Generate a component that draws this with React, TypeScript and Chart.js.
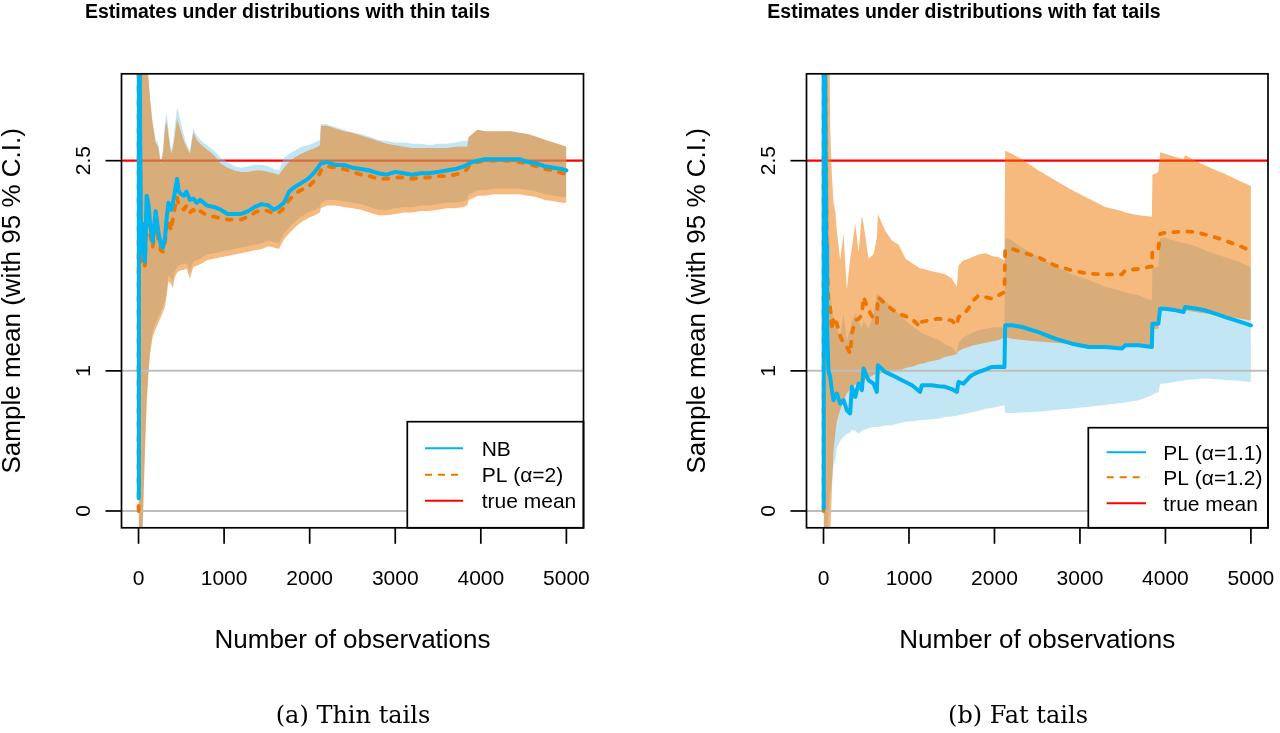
import React, { useEffect, useRef } from "react";
import { Chart, registerables } from "chart.js";

Chart.register(...registerables);

const SANS = '"Liberation Sans", Arial, Helvetica, sans-serif';
const SERIF = '"DejaVu Serif", "Liberation Serif", serif';

const BLUE = "#00B2EE";
const ORANGE = "#EE7600";
const RED = "#FF0000";
const GRAY = "#BEBEBE";
const BLUE_BAND = "rgba(135,206,235,0.5)";
const ORANGE_BAND = "rgba(238,118,0,0.5)";

// axis limits (R style: data range extended by 4%)
const X_MIN = -199;
const X_MAX = 5200;
const Y_MIN = -0.12;
const Y_MAX = 3.12;
const X_TICKS = [0, 1000, 2000, 3000, 4000, 5000];
const Y_TICKS = [0, 1, 2.5];
const Y_TICK_LABELS = ["0", "1", "2.5"];
const TRUE_MEAN = 2.5;
const GUIDE_LEVELS = [0, 1];

// ---------------- Panel (a): thin tails ----------------
const thinObs = [
  1, 3, 10, 20, 30, 45, 60, 75, 95, 115,
  135, 165, 200, 230, 260, 285, 310, 330, 350, 380,
  400, 420, 450, 470, 500, 530, 560, 600, 640, 680,
  720, 800, 880, 960, 1040, 1120, 1200, 1280, 1360, 1440,
  1520, 1580, 1640, 1700, 1760, 1820, 1900, 1980, 2060, 2120,
  2130, 2200, 2300, 2400, 2500, 2600, 2700, 2800, 2900, 3000,
  3100, 3200, 3300, 3400, 3500, 3600, 3700, 3800, 3840, 3860,
  3900, 3960, 4050, 4150, 4250, 4350, 4450, 4550, 4650, 4750,
  4850, 4950, 5000,
];
const thinNBMean = [
  0.09, 9, 3.6, 2.6, 1.85, 2.05, 1.8, 1.78, 2.25, 2.2,
  2.05, 1.92, 2.14, 2.0, 1.9, 1.88, 1.95, 2.1, 2.2, 2.15,
  2.19, 2.26, 2.37, 2.28, 2.26, 2.25, 2.28, 2.22, 2.23, 2.2,
  2.22, 2.18, 2.17, 2.15, 2.12, 2.12, 2.12, 2.14, 2.17, 2.19,
  2.18, 2.15, 2.17, 2.2, 2.28, 2.31, 2.34, 2.37, 2.42, 2.47,
  2.48, 2.49, 2.47, 2.47, 2.45, 2.44, 2.43, 2.41, 2.4, 2.42,
  2.41, 2.4, 2.41, 2.41, 2.42, 2.43, 2.44, 2.46, 2.47, 2.48,
  2.49, 2.5, 2.51, 2.51, 2.51, 2.51, 2.51, 2.49, 2.48, 2.46,
  2.45, 2.44, 2.43,
];
const thinPLMean = [
  0.0, 9, 3.5, 2.5, 1.78, 1.95, 1.77, 1.75, 2.1, 2.1,
  1.98, 1.88, 2.03, 1.95, 1.86, 1.85, 1.92, 2.03, 2.08, 2.0,
  2.08, 2.15, 2.24, 2.18, 2.17, 2.15, 2.18, 2.13, 2.15, 2.12,
  2.14, 2.11, 2.1, 2.09, 2.08, 2.08, 2.08, 2.1, 2.13, 2.15,
  2.14, 2.12, 2.13, 2.16, 2.22, 2.26, 2.29, 2.31, 2.36, 2.41,
  2.43, 2.46, 2.45, 2.44, 2.42, 2.4, 2.39, 2.37, 2.37, 2.38,
  2.38, 2.37, 2.38, 2.38, 2.39, 2.39, 2.4, 2.42, 2.44, 2.46,
  2.48, 2.49, 2.5, 2.5, 2.5, 2.5, 2.49, 2.48, 2.46, 2.44,
  2.43, 2.41, 2.41,
];
const thinNBUpper = [
  9, 9, 9, 9, 7, 5, 4.2, 3.6, 3.25, 3.1,
  2.95, 2.78, 2.65, 2.62, 2.5, 2.58, 2.78, 2.84, 2.72, 2.58,
  2.62, 2.72, 2.88, 2.84, 2.76, 2.68, 2.62, 2.57, 2.73, 2.68,
  2.65, 2.61, 2.57, 2.52, 2.49, 2.46, 2.45, 2.46, 2.47, 2.47,
  2.46, 2.44, 2.43, 2.52, 2.55, 2.57, 2.6, 2.61, 2.63, 2.65,
  2.76, 2.76, 2.74, 2.72, 2.7, 2.69, 2.67, 2.65, 2.64, 2.63,
  2.63, 2.62, 2.62, 2.61, 2.62, 2.62, 2.63, 2.64, 2.64, 2.67,
  2.69, 2.72, 2.71, 2.71, 2.71, 2.71, 2.7, 2.69, 2.67, 2.65,
  2.63, 2.61, 2.6,
];
const thinNBLower = [
  -1, -1, -1, -1, -0.5, -0.2, 0.15, 0.45, 0.79, 1.0,
  1.15, 1.28, 1.34, 1.38, 1.42, 1.46, 1.5, 1.58, 1.68, 1.66,
  1.63, 1.7, 1.74, 1.75, 1.76, 1.76, 1.77, 1.7, 1.78, 1.79,
  1.8, 1.83, 1.84, 1.85, 1.86, 1.87, 1.88, 1.89, 1.9, 1.91,
  1.93, 1.92, 1.91, 1.98, 2.02, 2.06, 2.1, 2.13, 2.15, 2.17,
  2.2, 2.22, 2.22, 2.21, 2.2, 2.19, 2.17, 2.15, 2.15, 2.16,
  2.17, 2.17, 2.18, 2.18, 2.19, 2.2, 2.2, 2.21, 2.22, 2.26,
  2.27, 2.29, 2.29, 2.3, 2.3, 2.3, 2.3, 2.29, 2.28, 2.26,
  2.25, 2.24, 2.24,
];
const thinPLUpper = [
  9, 9, 9, 9, 7, 5, 4.2, 3.6, 3.25, 3.1,
  2.93, 2.76, 2.63, 2.6, 2.48, 2.55, 2.74, 2.78, 2.68, 2.55,
  2.58, 2.66, 2.8, 2.76, 2.7, 2.64, 2.6, 2.55, 2.7, 2.65,
  2.62, 2.58, 2.54, 2.48, 2.45, 2.43, 2.42, 2.42, 2.43, 2.43,
  2.42, 2.41, 2.4, 2.45, 2.49, 2.52, 2.55, 2.57, 2.59, 2.61,
  2.75, 2.75, 2.73, 2.71, 2.7, 2.68, 2.66, 2.64, 2.62, 2.61,
  2.6, 2.59, 2.59, 2.59, 2.59, 2.59, 2.6, 2.6, 2.6, 2.67,
  2.69, 2.72, 2.71, 2.71, 2.71, 2.71, 2.7, 2.69, 2.67, 2.65,
  2.63, 2.61, 2.6,
];
const thinPLLower = [
  -1, -1, -1, -1, -0.5, -0.2, 0.12, 0.42, 0.76, 0.97,
  1.12, 1.24, 1.3, 1.34, 1.38, 1.42, 1.46, 1.54, 1.64, 1.62,
  1.59, 1.66, 1.7, 1.71, 1.72, 1.72, 1.73, 1.66, 1.74, 1.75,
  1.76, 1.79, 1.8, 1.81, 1.82, 1.83, 1.84, 1.85, 1.86, 1.87,
  1.89, 1.88, 1.87, 1.94, 1.98, 2.02, 2.06, 2.09, 2.11, 2.13,
  2.16, 2.18, 2.18, 2.17, 2.16, 2.15, 2.13, 2.11, 2.11, 2.12,
  2.13, 2.13, 2.14, 2.14, 2.15, 2.16, 2.16, 2.17, 2.18, 2.22,
  2.23, 2.25, 2.25, 2.26, 2.26, 2.26, 2.26, 2.25, 2.24, 2.22,
  2.21, 2.2, 2.2,
];

// ---------------- Panel (b): fat tails ----------------
const fatObs = [
  1, 2, 10, 20, 30, 40, 58, 78, 98, 117,
  137, 156, 195, 234, 273, 312, 332, 371, 410, 449,
  468, 527, 585, 624, 636, 722, 800, 878, 960, 1034,
  1131, 1150, 1267, 1350, 1424, 1500, 1560, 1579, 1638, 1700,
  1735, 1813, 1900, 1969, 2050, 2117, 2125, 2203, 2320, 2515,
  2710, 2905, 3100, 3295, 3490, 3529, 3685, 3841, 3848, 3918,
  3938, 3997, 4100, 4211, 4230, 4350, 4464, 4600, 4698, 4850,
  5000,
];
const fatA11Mean = [
  0.02, 30, 5.8, 2.9, 1.9, 1.35, 1.0, 0.957, 0.862, 0.791,
  0.82, 0.838, 0.767, 0.791, 0.719, 0.696, 0.886, 0.814, 0.909, 0.862,
  1.016, 0.933, 0.909, 0.85, 1.04, 0.992, 0.97, 0.945, 0.92, 0.897,
  0.85, 0.897, 0.897, 0.89, 0.886, 0.87, 0.85, 0.921, 0.909, 0.95,
  0.969, 0.992, 1.01, 1.028, 1.03, 1.028, 1.325, 1.325, 1.313, 1.277,
  1.23, 1.194, 1.17, 1.17, 1.159, 1.182, 1.182, 1.17, 1.337, 1.337,
  1.444, 1.444, 1.435, 1.42, 1.455, 1.445, 1.432, 1.405, 1.384, 1.355,
  1.325,
];
const fatA12Mean = [
  0.0, 30, 6, 3.2, 2.3, 1.8, 1.5, 1.45, 1.29, 1.384,
  1.36, 1.337, 1.25, 1.194, 1.17, 1.123, 1.265, 1.36, 1.37, 1.4,
  1.527, 1.432, 1.372, 1.337, 1.527, 1.479, 1.44, 1.408, 1.39, 1.372,
  1.313, 1.35, 1.365, 1.372, 1.365, 1.36, 1.325, 1.385, 1.4, 1.45,
  1.491, 1.538, 1.525, 1.515, 1.54, 1.562, 1.859, 1.871, 1.847, 1.811,
  1.752, 1.717, 1.693, 1.688, 1.688, 1.717, 1.728, 1.745, 1.86, 1.87,
  1.978, 1.985, 1.99, 1.995, 1.997, 1.99, 1.973, 1.95, 1.93, 1.895,
  1.859,
];
const fatA11Upper = [
  30, 30, 30, 30, 10, 5, 2.5, 1.55, 1.45, 1.384,
  1.34, 1.31, 1.24, 1.41, 1.22, 1.3, 1.35, 1.41, 1.35, 1.31,
  1.36, 1.3, 1.4, 1.55, 1.55, 1.5, 1.45, 1.41, 1.36, 1.32,
  1.28, 1.27, 1.24, 1.22, 1.19, 1.17, 1.12, 1.2, 1.24, 1.26,
  1.27, 1.29, 1.3, 1.31, 1.31, 1.31, 1.95, 1.93, 1.88, 1.81,
  1.75, 1.69, 1.65, 1.6, 1.57, 1.56, 1.54, 1.5, 1.74, 1.74,
  1.95, 1.95, 1.93, 1.91, 1.91, 1.89, 1.86, 1.83, 1.81, 1.78,
  1.74,
];
const fatA11Lower = [
  -1, -1, -1, -1, -1, -0.5, 0.0, 0.13, 0.21, 0.32,
  0.36, 0.45, 0.5, 0.53, 0.55, 0.56, 0.58, 0.57, 0.553, 0.57,
  0.58, 0.59, 0.6, 0.6, 0.6, 0.61, 0.612, 0.625, 0.636, 0.64,
  0.648, 0.648, 0.655, 0.66, 0.67, 0.675, 0.68, 0.685, 0.69, 0.7,
  0.705, 0.715, 0.73, 0.735, 0.745, 0.755, 0.7, 0.7, 0.703, 0.708,
  0.72, 0.732, 0.744, 0.756, 0.77, 0.775, 0.791, 0.826, 0.83, 0.85,
  0.908, 0.91, 0.92, 0.93, 0.935, 0.94, 0.945, 0.94, 0.935, 0.93,
  0.921,
];
const fatA12Upper = [
  30, 30, 30, 30, 20, 10, 4.5, 2.74, 2.4, 2.2,
  2.14, 2.0, 1.79, 1.98, 1.58, 1.8, 1.88, 2.05, 1.85, 2.11,
  2.05, 1.8, 1.83, 1.95, 2.12, 2.0, 1.93, 1.9, 1.8, 1.77,
  1.73, 1.73, 1.71, 1.7, 1.69, 1.66, 1.6, 1.75, 1.79, 1.8,
  1.81, 1.83, 1.84, 1.82, 1.81, 1.79, 2.57, 2.55, 2.51, 2.43,
  2.36, 2.29, 2.23, 2.17, 2.14, 2.13, 2.11, 2.1, 2.4, 2.42,
  2.56, 2.55, 2.53, 2.51, 2.54, 2.5, 2.465, 2.43, 2.405, 2.36,
  2.32,
];
const fatA12Lower = [
  -1, -1, -1, -1, -1, -1, -0.5, -0.2, 0.15, 0.43,
  0.55, 0.64, 0.72, 0.78, 0.84, 0.87, 0.88, 0.9, 0.91, 0.92,
  0.93, 0.95, 0.97, 0.98, 0.98, 0.99, 0.995, 1.0, 1.02, 1.03,
  1.05, 1.05, 1.07, 1.08, 1.1, 1.11, 1.12, 1.14, 1.16, 1.17,
  1.18, 1.19, 1.2, 1.21, 1.22, 1.24, 1.24, 1.23, 1.22, 1.21,
  1.2, 1.19, 1.18, 1.175, 1.17, 1.17, 1.17, 1.165, 1.3, 1.3,
  1.44, 1.44, 1.435, 1.43, 1.43, 1.42, 1.41, 1.4, 1.39, 1.375,
  1.36,
];

// ---------------- helpers ----------------
type Pt = { x: number; y: number };
const series = (xs: number[], ys: number[]): Pt[] => xs.map((x, i) => ({ x, y: ys[i] }));
const hline = (y: number): Pt[] => [
  { x: X_MIN, y },
  { x: X_MAX, y },
];

type LegendItem = { label: string; color: string; dash: number[] };
type PanelCfg = {
  title: string;
  titleX: number;
  caption: string;
  captionX: number;
  padLeft: number;
  padRight: number;
  legendLeft: number;
  legendTop: number;
  legendLineX: [number, number];
  legendTextX: number;
  legendRowsY: number[];
  legend: LegendItem[];
  obs: number[];
  meanA: number[];
  upA: number[];
  lowA: number[];
  meanB: number[];
  upB: number[];
  lowB: number[];
};

const CHART_TOP = 73.8;
const CHART_BOTTOM = 527.8;
const CANVAS_W = 640;
const CANVAS_H = 733;

function decorPlugin(cfg: PanelCfg) {
  return {
    id: "rDecor",
    afterDraw(chart: any) {
      const ctx: CanvasRenderingContext2D = chart.ctx;
      const a = chart.chartArea;
      const xs = chart.scales.x;
      const ys = chart.scales.y;
      ctx.save();

      // legend
      const lw = a.right - cfg.legendLeft;
      const lh = a.bottom - cfg.legendTop;
      ctx.fillStyle = "#fff";
      ctx.fillRect(cfg.legendLeft, cfg.legendTop, lw, lh);
      ctx.strokeStyle = "#000";
      ctx.lineWidth = 1.7;
      ctx.strokeRect(cfg.legendLeft, cfg.legendTop, lw, lh);
      ctx.font = `21px ${SANS}`;
      ctx.textAlign = "left";
      ctx.textBaseline = "alphabetic";
      cfg.legend.forEach((it, i) => {
        const y = cfg.legendRowsY[i];
        ctx.strokeStyle = it.color;
        ctx.lineWidth = 2;
        ctx.setLineDash(it.dash);
        ctx.beginPath();
        ctx.moveTo(cfg.legendLineX[0], y);
        ctx.lineTo(cfg.legendLineX[1], y);
        ctx.stroke();
        ctx.setLineDash([]);
        ctx.fillStyle = "#000";
        ctx.fillText(it.label, cfg.legendTextX, y + 7.3);
      });

      // box
      ctx.strokeStyle = "#000";
      ctx.lineWidth = 1.7;
      ctx.strokeRect(a.left, a.top, a.right - a.left, a.bottom - a.top);

      // x axis ticks + labels
      ctx.fillStyle = "#000";
      ctx.font = `21px ${SANS}`;
      ctx.textAlign = "center";
      for (const t of X_TICKS) {
        const px = xs.getPixelForValue(t);
        ctx.beginPath();
        ctx.moveTo(px, a.bottom);
        ctx.lineTo(px, a.bottom + 16);
        ctx.stroke();
        ctx.fillText(String(t), px, a.bottom + 57);
      }
      // y axis ticks + rotated labels
      Y_TICKS.forEach((t, i) => {
        const py = ys.getPixelForValue(t);
        ctx.beginPath();
        ctx.moveTo(a.left - 16, py);
        ctx.lineTo(a.left, py);
        ctx.stroke();
        ctx.save();
        ctx.translate(a.left - 32, py);
        ctx.rotate(-Math.PI / 2);
        ctx.fillText(Y_TICK_LABELS[i], 0, 0);
        ctx.restore();
      });

      // axis titles
      ctx.font = `26px ${SANS}`;
      ctx.fillText("Number of observations", (a.left + a.right) / 2, a.bottom + 120.5);
      ctx.save();
      ctx.translate(a.left - 101.4, (a.top + a.bottom) / 2);
      ctx.rotate(-Math.PI / 2);
      ctx.fillText("Sample mean (with 95 % C.I.)", 0, 0);
      ctx.restore();

      // main title
      ctx.font = `bold 19.5px ${SANS}`;
      ctx.fillText(cfg.title, cfg.titleX, 18);

      // caption
      ctx.font = `24px ${SERIF}`;
      ctx.fillText(cfg.caption, cfg.captionX, 723);

      ctx.restore();
    },
  };
}

function buildChart(canvas: HTMLCanvasElement, cfg: PanelCfg) {
  const band = (data: Pt[], color: string | null, order: number) => ({
    data,
    borderColor: "transparent",
    borderWidth: 0,
    backgroundColor: color || "transparent",
    fill: color ? "+1" : false,
    pointRadius: 0,
    order,
  });
  const ref = (y: number, color: string, order: number, width: number) => ({
    data: hline(y),
    borderColor: color,
    borderWidth: width,
    pointRadius: 0,
    fill: false,
    clip: 0,
    order,
  });
  const datasets: any[] = [
    {
      data: series(cfg.obs, cfg.meanA),
      borderColor: BLUE,
      borderWidth: 4,
      borderCapStyle: "round",
      borderJoinStyle: "round",
      pointRadius: 0,
      fill: false,
      clip: 0,
      order: 1,
    },
    {
      data: series(cfg.obs, cfg.meanB),
      borderColor: ORANGE,
      borderWidth: 3.8,
      borderDash: [5, 9],
      borderCapStyle: "round",
      borderJoinStyle: "round",
      pointRadius: 0,
      fill: false,
      clip: 0,
      order: 2,
    },
    ...GUIDE_LEVELS.map((g) => ref(g, GRAY, 5, 2)),
    band(series(cfg.obs, cfg.upB), ORANGE_BAND, 7),
    band(series(cfg.obs, cfg.lowB), null, 7),
    band(series(cfg.obs, cfg.upA), BLUE_BAND, 8),
    band(series(cfg.obs, cfg.lowA), null, 8),
    ref(TRUE_MEAN, RED, 10, 2.2),
  ];

  return new Chart(canvas, {
    type: "line",
    data: { datasets },
    options: {
      animation: false,
      responsive: false,
      maintainAspectRatio: false,
      devicePixelRatio: 1,
      events: [],
      layout: {
        padding: {
          left: cfg.padLeft,
          right: cfg.padRight,
          top: CHART_TOP,
          bottom: CANVAS_H - CHART_BOTTOM,
        },
      },
      elements: { line: { tension: 0 }, point: { radius: 0 } },
      scales: {
        x: { type: "linear", min: X_MIN, max: X_MAX, display: false },
        y: { type: "linear", min: Y_MIN, max: Y_MAX, display: false },
      },
      plugins: {
        legend: { display: false },
        tooltip: { enabled: false },
        title: { display: false },
      },
    } as any,
    plugins: [decorPlugin(cfg)],
  });
}

const thinCfg: PanelCfg = {
  title: "Estimates under distributions with thin tails",
  titleX: 287.5,
  caption: "(a) Thin tails",
  captionX: 353,
  padLeft: 121.5,
  padRight: CANVAS_W - 583.5,
  legendLeft: 407.3,
  legendTop: 421.7,
  legendLineX: [425, 463],
  legendTextX: 481.7,
  legendRowsY: [448.3, 474.7, 500.7],
  legend: [
    { label: "NB", color: BLUE, dash: [] },
    { label: "PL (α=2)", color: ORANGE, dash: [7, 6] },
    { label: "true mean", color: RED, dash: [] },
  ],
  obs: thinObs,
  meanA: thinNBMean,
  upA: thinNBUpper,
  lowA: thinNBLower,
  meanB: thinPLMean,
  upB: thinPLUpper,
  lowB: thinPLLower,
};

const fatCfg: PanelCfg = {
  title: "Estimates under distributions with fat tails",
  titleX: 964 - 640,
  caption: "(b) Fat tails",
  captionX: 1018 - 640,
  padLeft: 806.5 - 640,
  padRight: 1280 - 1268,
  legendLeft: 1088.3 - 640,
  legendTop: 427.7,
  legendLineX: [1106.7 - 640, 1146 - 640],
  legendTextX: 1163.3 - 640,
  legendRowsY: [452.3, 477.3, 503.3],
  legend: [
    { label: "PL (α=1.1)", color: BLUE, dash: [] },
    { label: "PL (α=1.2)", color: ORANGE, dash: [7, 6] },
    { label: "true mean", color: RED, dash: [] },
  ],
  obs: fatObs,
  meanA: fatA11Mean,
  upA: fatA11Upper,
  lowA: fatA11Lower,
  meanB: fatA12Mean,
  upB: fatA12Upper,
  lowB: fatA12Lower,
};

function Panel({ cfg }: { cfg: PanelCfg }) {
  const ref = useRef<HTMLCanvasElement | null>(null);
  useEffect(() => {
    if (!ref.current) return;
    const chart = buildChart(ref.current, cfg);
    return () => chart.destroy();
  }, [cfg]);
  return (
    <canvas
      ref={ref}
      width={CANVAS_W}
      height={CANVAS_H}
      style={{ display: "block", width: CANVAS_W, height: CANVAS_H }}
    />
  );
}

export default function App() {
  return (
    <div
      style={{
        position: "fixed",
        left: 0,
        top: 0,
        width: 1280,
        height: 733,
        background: "#fff",
        display: "flex",
        overflow: "hidden",
      }}
    >
      <Panel cfg={thinCfg} />
      <Panel cfg={fatCfg} />
    </div>
  );
}
